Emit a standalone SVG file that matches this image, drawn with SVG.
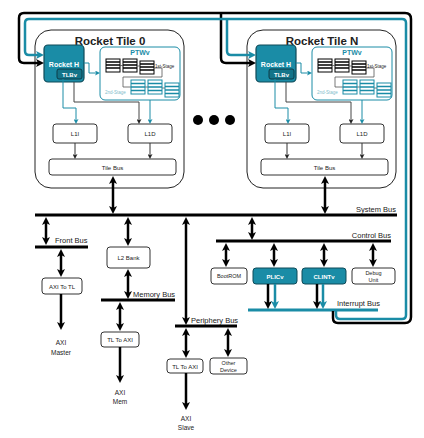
<svg xmlns="http://www.w3.org/2000/svg" width="424" height="438" viewBox="0 0 424 438">
<style>
text{font-family:"Liberation Sans",Arial,sans-serif;fill:#222}
.box{fill:#fff;stroke:#333;stroke-width:1}
.tile{fill:#fff;stroke:#222;stroke-width:1}
.core{fill:#1a8ca6;stroke:#0f4a58;stroke-width:1.2}
.tlb{fill:#147489;stroke:#0d3c48;stroke-width:1}
.tealbox{fill:#1a8ca6;stroke:#0f4a58;stroke-width:1}
.ptw{fill:#fff;stroke:#1a8ca6;stroke-width:1}
.wb{fill:#fff;font-weight:bold}
.bus{stroke:#000;stroke-width:3;fill:none}
.ibus{stroke:#1a8ca6;stroke-width:3;fill:none}
.big{stroke:#000;stroke-width:2.5;fill:none;marker-end:url(#ab)}
.dbl{stroke:#000;stroke-width:2.5;fill:none;marker-end:url(#ab);marker-start:url(#ab)}
.bigt{stroke:#1a8ca6;stroke-width:2.5;fill:none;marker-end:url(#abt)}
.thin{stroke:#333;stroke-width:1;fill:none;marker-end:url(#as)}
.thint{stroke:#1a8ca6;stroke-width:1;fill:none;marker-end:url(#ast)}
.sb{fill:#fff;stroke:#000;stroke-width:1}
.sbl{stroke:#000;stroke-width:1.4}
.st{fill:#fff;stroke:#1a8ca6;stroke-width:1}
.stl{stroke:#1a8ca6;stroke-width:1.4}
.lnk{stroke:#1a8ca6;stroke-width:0.8;fill:none}
.loopk{stroke:#000;stroke-width:2.5;fill:none}
.loopt{stroke:#1a8ca6;stroke-width:2.5;fill:none}
</style>
<defs>
<marker id="ab" viewBox="0 0 10 10" refX="5" refY="5" markerWidth="8" markerHeight="8" markerUnits="userSpaceOnUse" orient="auto-start-reverse"><path d="M0,0 L10,5 L0,10 L2.5,5 z" fill="#000"/></marker>
<marker id="abt" viewBox="0 0 10 10" refX="5" refY="5" markerWidth="8" markerHeight="8" markerUnits="userSpaceOnUse" orient="auto-start-reverse"><path d="M0,0 L10,5 L0,10 L2.5,5 z" fill="#1a8ca6"/></marker>
<marker id="as" viewBox="0 0 10 10" refX="5" refY="5" markerWidth="5" markerHeight="5" markerUnits="userSpaceOnUse" orient="auto"><path d="M0,0 L10,5 L0,10 L2.5,5 z" fill="#222"/></marker>
<marker id="ast" viewBox="0 0 10 10" refX="5" refY="5" markerWidth="5" markerHeight="5" markerUnits="userSpaceOnUse" orient="auto"><path d="M0,0 L10,5 L0,10 L2.5,5 z" fill="#1a8ca6"/></marker>
</defs>
<rect width="424" height="438" fill="#fff"/>

<!-- Tile 0 -->
<g id="tile0">
<rect class="tile" x="35" y="30" width="149" height="158" rx="16"/>
<text x="110" y="44.5" font-size="11.5" font-weight="bold" text-anchor="middle">Rocket Tile 0</text>
<g id="core0">
<rect class="core" x="44" y="45" width="40" height="37" rx="4"/>
<text class="wb" x="64" y="66.5" font-size="7" text-anchor="middle">Rocket H</text>
<rect class="tlb" x="57" y="69" width="25" height="10" rx="2"/>
<text class="wb" x="69.5" y="76.5" font-size="6" text-anchor="middle">TLBv</text>
</g>
<g id="ptw0">
<rect class="ptw" x="100" y="47" width="80" height="53" rx="5"/>
<text x="140" y="55" font-size="7" font-weight="bold" text-anchor="middle" style="fill:#1a8ca6">PTWv</text>
<rect class="sb" x="106" y="59" width="14" height="13"/><path class="sbl" d="M106,62h14M106,65h14M106,68h14"/>
<rect class="sb" x="123" y="59" width="14" height="13"/><path class="sbl" d="M123,62h14M123,65h14M123,68h14"/>
<rect class="sb" x="140" y="61" width="14" height="13"/><path class="sbl" d="M140,64h14M140,67h14M140,70h14"/>
<path class="lnk" d="M120,65.5H123M137,66H140M154,68H162V77H123V87H131M145,87H148M162,88H165" style="stroke:#555"/>
<text x="155" y="67.5" font-size="4.5">1st-Stage</text>
<rect class="st" x="131" y="80" width="14" height="14"/><path class="stl" d="M131,83.5h14M131,87h14M131,90.5h14"/>
<rect class="st" x="148" y="80" width="14" height="14"/><path class="stl" d="M148,83.5h14M148,87h14M148,90.5h14"/>
<rect class="st" x="165" y="83" width="14" height="14"/><path class="stl" d="M165,86.5h14M165,90h14M165,93.5h14"/>
<text x="105" y="94" font-size="4.5" style="fill:#7fbccb">2nd-Stage</text>
</g>
<g id="l1i0"><rect class="box" x="53" y="124" width="44" height="19" rx="3"/><text x="75" y="136" font-size="6" text-anchor="middle">L1I</text></g>
<g id="l1d0"><rect class="box" x="128" y="124" width="44" height="19" rx="3"/><text x="150" y="136" font-size="6" text-anchor="middle">L1D</text></g>
<g id="tilebus0"><rect class="box" x="49" y="159" width="127" height="16" rx="3"/><text x="112.5" y="169.5" font-size="6" text-anchor="middle">Tile Bus</text></g>
</g>

<!-- Tile N -->
<g id="tileN" transform="translate(212,0)">
<rect class="tile" x="35" y="30" width="149" height="158" rx="16"/>
<text x="110" y="44.5" font-size="11.5" font-weight="bold" text-anchor="middle">Rocket Tile N</text>
<g id="coreN">
<rect class="core" x="44" y="45" width="40" height="37" rx="4"/>
<text class="wb" x="64" y="66.5" font-size="7" text-anchor="middle">Rocket H</text>
<rect class="tlb" x="57" y="69" width="25" height="10" rx="2"/>
<text class="wb" x="69.5" y="76.5" font-size="6" text-anchor="middle">TLBv</text>
</g>
<g id="ptwN">
<rect class="ptw" x="100" y="47" width="80" height="53" rx="5"/>
<text x="140" y="55" font-size="7" font-weight="bold" text-anchor="middle" style="fill:#1a8ca6">PTWv</text>
<rect class="sb" x="106" y="59" width="14" height="13"/><path class="sbl" d="M106,62h14M106,65h14M106,68h14"/>
<rect class="sb" x="123" y="59" width="14" height="13"/><path class="sbl" d="M123,62h14M123,65h14M123,68h14"/>
<rect class="sb" x="140" y="61" width="14" height="13"/><path class="sbl" d="M140,64h14M140,67h14M140,70h14"/>
<path class="lnk" d="M120,65.5H123M137,66H140M154,68H162V77H123V87H131M145,87H148M162,88H165" style="stroke:#555"/>
<text x="155" y="67.5" font-size="4.5">1st-Stage</text>
<rect class="st" x="131" y="80" width="14" height="14"/><path class="stl" d="M131,83.5h14M131,87h14M131,90.5h14"/>
<rect class="st" x="148" y="80" width="14" height="14"/><path class="stl" d="M148,83.5h14M148,87h14M148,90.5h14"/>
<rect class="st" x="165" y="83" width="14" height="14"/><path class="stl" d="M165,86.5h14M165,90h14M165,93.5h14"/>
<text x="105" y="94" font-size="4.5" style="fill:#7fbccb">2nd-Stage</text>
</g>
<g id="l1iN"><rect class="box" x="53" y="124" width="44" height="19" rx="3"/><text x="75" y="136" font-size="6" text-anchor="middle">L1I</text></g>
<g id="l1dN"><rect class="box" x="128" y="124" width="44" height="19" rx="3"/><text x="150" y="136" font-size="6" text-anchor="middle">L1D</text></g>
<g id="tilebusN"><rect class="box" x="49" y="159" width="127" height="16" rx="3"/><text x="112.5" y="169.5" font-size="6" text-anchor="middle">Tile Bus</text></g>
</g>

<g id="ellipsis"><circle cx="198" cy="120" r="5"/><circle cx="214" cy="120" r="5"/><circle cx="230" cy="120" r="5"/></g>

<!-- buses -->
<g id="systembus"><path class="bus" d="M35,215H397"/><text x="396" y="212" font-size="7.5" text-anchor="end">System Bus</text></g>
<g id="frontbus"><path class="bus" d="M35,247H88"/><text x="55" y="243" font-size="7.5">Front Bus</text></g>
<g id="memorybus"><path class="bus" d="M101,300H175"/><text x="133" y="297" font-size="7.5">Memory Bus</text></g>
<g id="peripherybus"><path class="bus" d="M175,326H237"/><text x="191" y="323" font-size="7.5">Periphery Bus</text></g>
<g id="controlbus"><path class="bus" d="M216,241H391"/><text x="391" y="238" font-size="7.5" text-anchor="end">Control Bus</text></g>
<g id="interruptbus"><path class="ibus" d="M248,310H378"/><text x="337" y="306" font-size="7.5">Interrupt Bus</text></g>

<!-- nodes -->
<g id="axitotl"><rect class="box" x="42" y="278" width="40" height="16" rx="3"/><text x="62" y="288.5" font-size="6" text-anchor="middle">AXI To TL</text></g>
<g id="axi-master"><text x="61" y="345" font-size="6.5" text-anchor="middle">AXI</text><text x="61" y="354.5" font-size="6.5" text-anchor="middle">Master</text></g>
<g id="l2bank"><rect class="box" x="107" y="247" width="43" height="21" rx="3"/><text x="128.5" y="259.5" font-size="6" text-anchor="middle">L2 Bank</text></g>
<g id="tltoaxi-mem"><rect class="box" x="101" y="332" width="38" height="15" rx="3"/><text x="120" y="342" font-size="6" text-anchor="middle">TL To AXI</text></g>
<g id="axi-mem"><text x="120" y="394.5" font-size="6.5" text-anchor="middle">AXI</text><text x="120" y="403.5" font-size="6.5" text-anchor="middle">Mem</text></g>
<g id="tltoaxi-slave"><rect class="box" x="167" y="359" width="36" height="14" rx="3"/><text x="185" y="368.5" font-size="6" text-anchor="middle">TL To AXI</text></g>
<g id="otherdevice"><rect class="box" x="210" y="358" width="37" height="16" rx="3"/><text x="228.5" y="365" font-size="5.5" text-anchor="middle">Other</text><text x="228.5" y="372" font-size="5.5" text-anchor="middle">Device</text></g>
<g id="axi-slave"><text x="186" y="420.5" font-size="6.5" text-anchor="middle">AXI</text><text x="186" y="429.5" font-size="6.5" text-anchor="middle">Slave</text></g>
<g id="bootrom"><rect class="box" x="211" y="268" width="36" height="16" rx="3"/><text x="229" y="278" font-size="5.5" text-anchor="middle">BootROM</text></g>
<g id="plic"><rect class="tealbox" x="253" y="268" width="44" height="16" rx="3"/><text class="wb" x="275" y="278.5" font-size="6" text-anchor="middle">PLICv</text></g>
<g id="clint"><rect class="tealbox" x="302" y="268" width="44" height="16" rx="3"/><text class="wb" x="324" y="278.5" font-size="6" text-anchor="middle">CLINTv</text></g>
<g id="debug"><rect class="box" x="352" y="268" width="43" height="16" rx="3"/><text x="373.5" y="275.3" font-size="5.5" text-anchor="middle">Debug</text><text x="373.5" y="281.8" font-size="5.5" text-anchor="middle">Unit</text></g>

<!-- connectors -->
<g id="connectors">
<!-- inside tiles -->
<path class="thint" d="M84,63H89V73H97.5"/>
<path class="thint" d="M63,79V108H76V121.5"/>
<path class="thin" d="M74,82V102H139V121.5" style="stroke:#444"/>
<path class="thint" d="M150,100V121.5"/>
<path class="thin" d="M75,143V156.5"/>
<path class="thin" d="M150,143V156.5"/>
<path class="thint" d="M296,63H301V73H309.5"/>
<path class="thint" d="M275,79V108H288V121.5"/>
<path class="thin" d="M286,82V102H351V121.5" style="stroke:#444"/>
<path class="thint" d="M362,100V121.5"/>
<path class="thin" d="M287,143V156.5"/>
<path class="thin" d="M362,143V156.5"/>
<!-- interrupt loops -->
<path class="loopk" d="M333,311V318Q333,323 338,323H405Q411,323 411,317V19Q411,13 405,13H24Q19,13 19,18V58Q19,63 24,63H40" marker-end="url(#ab)"/>
<path class="loopk" d="M221,13V58Q221,63 226,63H252" marker-end="url(#ab)"/>
<path class="loopt" d="M336,311V315Q336,319 340,319H402Q406,319 406,315V23Q406,19 402,19H29Q25,19 25,23V51Q25,55 29,55H40" marker-end="url(#abt)"/>
<path class="loopt" d="M227,19V51Q227,55 231,55H252" marker-end="url(#abt)"/>
<!-- system level -->
<path class="dbl" d="M113,210V180"/>
<path class="dbl" d="M325,210V180"/>
<path class="dbl" d="M46,221V241"/>
<path class="dbl" d="M61,253V273"/>
<path class="big" d="M61,294V326"/>
<path class="dbl" d="M128,221V242"/>
<path class="dbl" d="M128,273V295"/>
<path class="dbl" d="M120,306V327"/>
<path class="big" d="M120,347V379"/>
<path class="dbl" d="M186,221V321"/>
<path class="dbl" d="M186,332V354"/>
<path class="dbl" d="M228,332V353"/>
<path class="big" d="M186,373V406"/>
<path class="dbl" d="M252,221V236"/>
<path class="dbl" d="M226,247V263"/>
<path class="dbl" d="M274,247V263"/>
<path class="dbl" d="M324,247V263"/>
<path class="dbl" d="M373,247V263"/>
<path class="big" d="M268,284V305"/>
<path class="bigt" d="M275,284V305"/>
<path class="big" d="M317,284V305"/>
<path class="bigt" d="M323,284V305"/>
</g>
</svg>
